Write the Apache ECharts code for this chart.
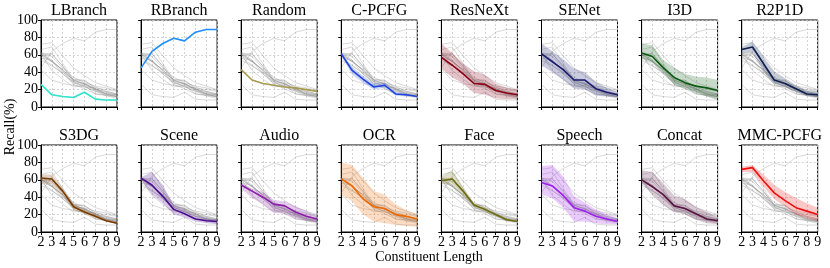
<!DOCTYPE html>
<html><head><meta charset="utf-8">
<script src="https://cdn.jsdelivr.net/npm/echarts@6/dist/echarts.min.js"></script>
<style>html,body{margin:0;padding:0;background:#fff}#c{width:830px;height:268px}</style>
</head><body><div id="c"></div>
<script>
const categories = ['2','3','4','5','6','7','8','9'];
const yTicks = [0,20,40,60,80,100];
const methods = ['LBranch','RBranch','Random','C-PCFG','ResNeXt','SENet','I3D','R2P1D','S3DG','Scene','Audio','OCR','Face','Speech','Concat','MMC-PCFG'];
const colors = ['#2ee6cc','#1e90ff','#a99b4f','#1f45e0','#8b0015','#1c1c72','#0b5a12','#0f1f4f','#7a3b00','#4b0f8f','#8a1fa8','#f06a00','#6b6b10','#a020f0','#5a1445','#ee1111'];

const meanLBranch = [26,14,12,11,17,9,8,8];
const meanRBranch = [45,64,73,79,76,86,89,89];
const meanRandom  = [43,31,27,25,23,22,20,18];
const meanCPCFG   = [61,42,32,23,25,15,14,12];
const meanResNeXt = [57,48,38,27,26,19,16,14];
const meanSENet   = [61,52,43,31,31,21,17,14];
const meanI3D     = [62,58,45,34,28,24,22,19];
const meanR2P1D   = [66,69,50,31,27,21,15,14];
const meanS3DG    = [62,61,47,29,23,18,13,10];
const meanScene   = [62,54,41,26,21,15,13,12];
const meanAudio   = [54,47,40,32,30,23,18,15];
const meanOCR     = [61,53,38,29,27,20,18,15];
const meanFace    = [59,61,47,31,26,20,14,12];
const meanSpeech  = [57,53,42,28,24,18,15,12];
const meanConcat  = [60,52,43,30,27,21,15,13];
const meanMMC     = [72,74,59,45,36,28,24,20];

const lowCPCFG   = [59,37,28,20,22,13,12,11], highCPCFG   = [62,46,36,27,28,17,15,13];
const lowResNeXt = [44,34,27,16,14,10,9,9],   highResNeXt = [73,62,50,41,37,27,22,20];
const lowSENet   = [48,40,31,21,20,13,12,11], highSENet   = [73,64,55,44,40,29,22,17];
const lowI3D     = [56,50,39,26,21,16,12,8],  highI3D     = [73,71,54,45,38,35,34,31];
const lowR2P1D   = [62,62,41,27,23,17,13,11], highR2P1D   = [69,75,58,41,33,25,19,18];
const lowS3DG    = [57,55,42,26,21,16,12,9],  highS3DG    = [66,66,51,33,26,21,15,12];
const lowScene   = [60,43,33,20,17,12,10,9],  highScene   = [63,69,54,31,26,19,16,14];
const lowAudio   = [50,39,32,22,21,16,13,11], highAudio   = [56,50,46,37,35,30,24,18];
const lowOCR     = [43,35,20,12,10,8,7,6],    highOCR     = [80,77,62,47,43,32,25,20];
const lowFace    = [56,54,41,29,23,18,13,11], highFace    = [64,71,52,33,29,22,16,13];
const lowSpeech  = [43,39,28,12,12,10,9,9],   highSpeech  = [76,77,64,41,34,26,20,16];
const lowConcat  = [56,43,31,23,20,14,10,9],  highConcat  = [71,69,56,42,38,29,23,17];
const lowMMC     = [69,69,52,38,29,20,16,12], highMMC     = [75,77,66,54,46,39,33,28];

const means = [meanLBranch,meanRBranch,meanRandom,meanCPCFG,meanResNeXt,meanSENet,meanI3D,meanR2P1D,meanS3DG,meanScene,meanAudio,meanOCR,meanFace,meanSpeech,meanConcat,meanMMC];
const lows  = [null,null,null,lowCPCFG,lowResNeXt,lowSENet,lowI3D,lowR2P1D,lowS3DG,lowScene,lowAudio,lowOCR,lowFace,lowSpeech,lowConcat,lowMMC];
const highs = [null,null,null,highCPCFG,highResNeXt,highSENet,highI3D,highR2P1D,highS3DG,highScene,highAudio,highOCR,highFace,highSpeech,highConcat,highMMC];

const FONT = '"Liberation Serif","DejaVu Serif",serif';
function hexA(h,a){const n=parseInt(h.slice(1),16);return `rgba(${n>>16&255},${n>>8&255},${n&255},${a})`;}

const grids=[],xAxes=[],yAxes=[],series=[],graphic=[];
for(let p=0;p<16;p++){
  const col=p%8,row=Math.floor(p/8);
  const left=41+col*100.1, top=row===0?20:145, w=76, h=87;
  grids.push({left:left,top:top,width:w,height:h,show:true,borderColor:'#000',borderWidth:1,containLabel:false});
  xAxes.push({type:'category',gridIndex:p,data:categories,boundaryGap:false,
    axisLine:{show:true,lineStyle:{color:'#000',width:1}},
    axisTick:{show:true,alignWithLabel:true,length:3,lineStyle:{color:'#000'}},
    axisLabel:{show:row===1,interval:0,margin:3,color:'#000',fontFamily:FONT,fontSize:14},
    splitLine:{show:true,lineStyle:{color:'#c8c8c8',type:[2,2],width:0.8}}});
  yAxes.push({type:'value',gridIndex:p,min:0,max:100,interval:20,
    axisLine:{show:true,lineStyle:{color:'#000',width:1}},
    axisTick:{show:true,length:3,lineStyle:{color:'#000'}},
    axisLabel:{show:col===0,margin:3,color:'#000',fontFamily:FONT,fontSize:14},
    splitLine:{show:true,lineStyle:{color:'#c8c8c8',type:[2,2],width:0.8}}});
  for(let m=0;m<16;m++){
    series.push({type:'line',xAxisIndex:p,yAxisIndex:p,data:means[m],symbol:'none',silent:true,
      lineStyle:{color:'rgba(120,120,120,0.28)',width:1},z:2});
  }
  if(lows[p]){
    const st='band'+p;
    series.push({type:'line',xAxisIndex:p,yAxisIndex:p,data:lows[p],stack:st,symbol:'none',silent:true,
      lineStyle:{width:0,opacity:0},z:3});
    series.push({type:'line',xAxisIndex:p,yAxisIndex:p,data:highs[p].map((v,i)=>v-lows[p][i]),stack:st,symbol:'none',silent:true,
      lineStyle:{width:0,opacity:0},areaStyle:{color:hexA(colors[p],0.33)},z:3});
  }
  series.push({type:'line',xAxisIndex:p,yAxisIndex:p,data:means[p],symbol:'none',silent:true,
    lineStyle:{color:colors[p],width:1.6},z:4});
  graphic.push({type:'text',left:null,x:left+w/2,y:row===0?11:136,style:{text:methods[p],fill:'#000',font:'16px '+FONT,textAlign:'center',textVerticalAlign:'middle'}});
}
graphic.push({type:'text',x:10,y:127,rotation:Math.PI/2,style:{text:'Recall(%)',fill:'#000',font:'14px '+FONT,textAlign:'center',textVerticalAlign:'middle'}});
graphic.push({type:'text',x:429,y:257,style:{text:'Constituent Length',fill:'#000',font:'14px '+FONT,textAlign:'center',textVerticalAlign:'middle'}});

const chart=echarts.init(document.getElementById('c'),null,{renderer:'canvas'});
chart.setOption({animation:false,grid:grids,xAxis:xAxes,yAxis:yAxes,series:series,graphic:graphic});
</script></body></html>
